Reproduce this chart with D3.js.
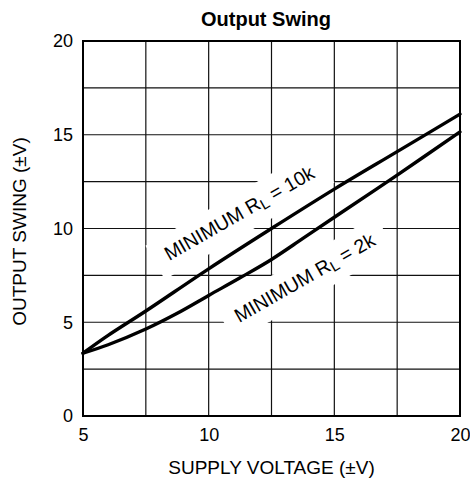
<!DOCTYPE html>
<html>
<head>
<meta charset="utf-8">
<script src="https://d3js.org/d3.v7.min.js"></script>
<style>
  body { margin: 0; background: #fff; }
  svg { display: block; font-family: Arial, "Liberation Sans", Helvetica, sans-serif; }
</style>
</head>
<body>
<div id="chart"></div>
<script>
// supply voltage (x) and minimum output swing for each load
var supply10k = [5, 6, 7.5, 10, 12.5, 15, 17.5, 20];
var swing10k = [3.35, 4.3, 5.6, 7.85, 10.0, 12.1, 14.1, 16.1];
var supply2k = [5, 6, 7.5, 8.75, 10, 11.25, 12.5, 13.75, 15, 17.5, 20];
var swing2k = [3.35, 3.8, 4.64, 5.48, 6.43, 7.37, 8.35, 9.47, 10.6, 12.85, 15.15];

// tick labels and grid lines
var xTicks = [5, 10, 15, 20];
var yTicks = [0, 5, 10, 15, 20];
var xGrid = [7.5, 10, 12.5, 15, 17.5];
var yGrid = [2.5, 5, 7.5, 10, 12.5, 15, 17.5];

// curve labels, placed in data units (x, y of the baseline centre)
var labels = [
    { load: "10k", x: 11.35, y: 10.51 },
    { load: "2k", x: 13.95, y: 7.06 }
];

function init() {
    var width = 470, height = 478;
    var margin = { top: 41, right: 10, bottom: 62, left: 83 };
    var w = width - margin.left - margin.right,
        h = height - margin.top - margin.bottom;

    var svg = d3.select("#chart")
        .append("svg")
            .attr("width", width)
            .attr("height", height);

    var g = svg.append("g")
        .attr("transform", "translate(" + margin.left + "," + margin.top + ")");

    var xScale = d3.scaleLinear().domain([5, 20]).range([0, w]);
    var yScale = d3.scaleLinear().domain([0, 20]).range([h, 0]);

    //grid lines
    g.selectAll("line.vgrid")
        .data(xGrid)
        .enter()
        .append("line")
            .attr("class", "vgrid")
            .attr("x1", function(d) { return xScale(d); })
            .attr("x2", function(d) { return xScale(d); })
            .attr("y1", 0)
            .attr("y2", h)
            .attr("stroke", "#111")
            .attr("stroke-width", 1.2);

    g.selectAll("line.hgrid")
        .data(yGrid)
        .enter()
        .append("line")
            .attr("class", "hgrid")
            .attr("x1", 0)
            .attr("x2", w)
            .attr("y1", function(d) { return yScale(d); })
            .attr("y2", function(d) { return yScale(d); })
            .attr("stroke", "#111")
            .attr("stroke-width", 1.2);

    //white boxes behind the labels, then the labels
    var lab = g.selectAll("g.curvelabel")
        .data(labels)
        .enter()
        .append("g")
            .attr("class", "curvelabel")
            .attr("transform", function(d) {
                return "translate(" + xScale(d.x) + "," + yScale(d.y) + ") rotate(-29.8)";
            });

    var box = lab.append("rect").attr("fill", "#fff");

    var txt = lab.append("text")
        .attr("text-anchor", "middle")
        .attr("font-size", 19.5)
        .attr("fill", "#000");
    txt.append("tspan").text("MINIMUM R");
    txt.append("tspan").attr("font-size", 15).attr("dy", 3).text("L");
    txt.append("tspan").attr("dy", -3).text(function(d) { return " = " + d.load; });

    txt.each(function(d, i) {
        var bb = this.getBBox();
        d3.select(box.nodes()[i])
            .attr("x", bb.x - 13)
            .attr("width", bb.width + 26)
            .attr("y", -25)
            .attr("height", 39);
    });

    //curves
    var line = d3.line()
        .x(function(d) { return xScale(d[0]); })
        .y(function(d) { return yScale(d[1]); })
        .curve(d3.curveCatmullRom.alpha(0.5));

    [[supply10k, swing10k], [supply2k, swing2k]].forEach(function(s) {
        g.append("path")
            .datum(d3.zip(s[0], s[1]))
            .attr("fill", "none")
            .attr("stroke", "#000")
            .attr("stroke-width", 3.4)
            .attr("stroke-linecap", "round")
            .attr("d", line);
    });

    //plot frame
    g.append("rect")
        .attr("x", 0)
        .attr("y", 0)
        .attr("width", w)
        .attr("height", h)
        .attr("fill", "none")
        .attr("stroke", "#000")
        .attr("stroke-width", 2);

    //axes (labels only, grid does the ticks)
    var xAxis = d3.axisBottom(xScale).tickValues(xTicks).tickSize(0).tickPadding(12);
    var gx = g.append("g")
        .attr("transform", "translate(0," + h + ")")
        .call(xAxis);
    gx.select(".domain").remove();
    gx.selectAll("text").attr("font-size", 18).attr("fill", "#000").attr("font-family", null);

    var yAxis = d3.axisLeft(yScale).tickValues(yTicks).tickSize(0).tickPadding(10);
    var gy = g.append("g").call(yAxis);
    gy.select(".domain").remove();
    gy.selectAll("text").attr("font-size", 18).attr("fill", "#000").attr("font-family", null);

    //titles
    svg.append("text")
        .attr("x", 266)
        .attr("y", 26)
        .attr("text-anchor", "middle")
        .attr("font-size", 20)
        .attr("font-weight", "bold")
        .text("Output Swing");

    svg.append("text")
        .attr("x", margin.left + w / 2)
        .attr("y", 474)
        .attr("text-anchor", "middle")
        .attr("font-size", 19)
        .text("SUPPLY VOLTAGE (\u00B1V)");

    svg.append("text")
        .attr("transform", "translate(26," + (margin.top + h / 2 + 3) + ") rotate(-90)")
        .attr("text-anchor", "middle")
        .attr("font-size", 19)
        .text("OUTPUT SWING (\u00B1V)");
}

window.addEventListener("load", init);
</script>
</body>
</html>
